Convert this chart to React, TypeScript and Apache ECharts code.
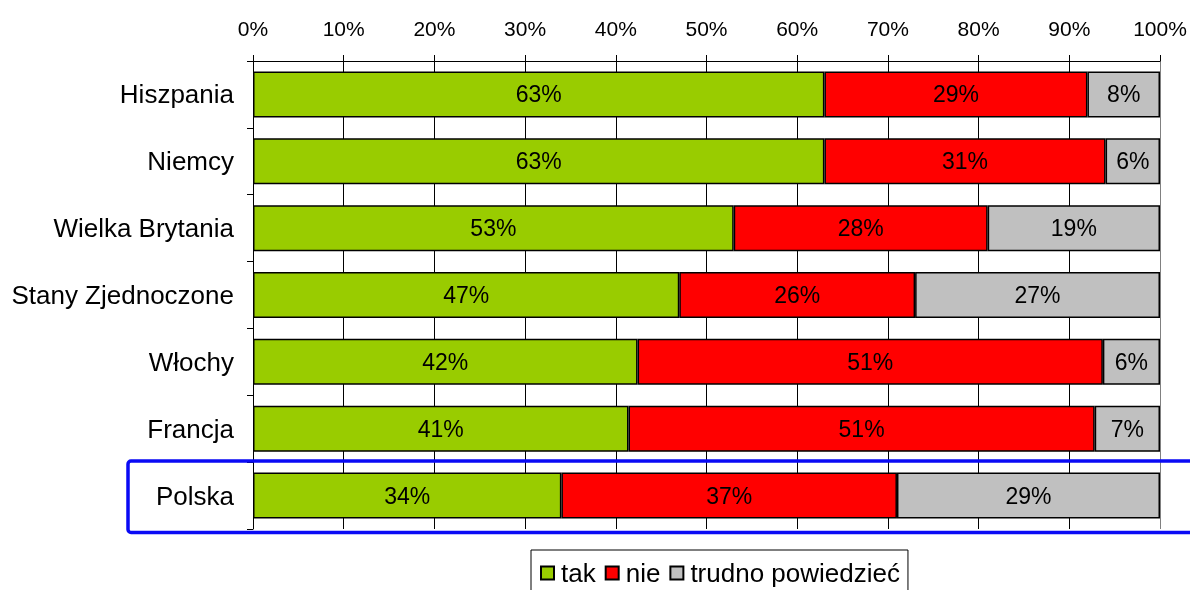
import React, { useEffect, useRef } from "react";
import * as echarts from "echarts";

const categories = ["Hiszpania", "Niemcy", "Wielka Brytania", "Stany Zjednoczone", "Włochy", "Francja", "Polska"];
const takValues = [63, 63, 53, 47, 42.4, 41.4, 34];
const nieValues = [29, 31, 28, 26, 51.3, 51.4, 37];
const trudnoValues = [8, 6, 19, 27, 6.3, 7.2, 29];
const seriesNames = ["tak", "nie", "trudno powiedzieć"];
const seriesColors = ["#99CC00", "#FF0000", "#C0C0C0"];
const xTicks = [0, 10, 20, 30, 40, 50, 60, 70, 80, 90, 100];

const FONT = "'Liberation Sans', Arial, sans-serif";

export default function App() {
  const ref = useRef<HTMLDivElement>(null);
  useEffect(() => {
    if (!ref.current) return;
    const chart = echarts.init(ref.current, null, { renderer: "svg" });
    const data = [takValues, nieValues, trudnoValues];
    const splitColors = xTicks.map((t) => (t === 100 ? "#808080" : "#000000"));
    chart.setOption({
      animation: false,
      textStyle: { fontFamily: FONT },
      grid: { left: 253, right: 30, top: 61, bottom: 61, containLabel: false },
      xAxis: {
        type: "value",
        position: "top",
        min: 0,
        max: 100,
        interval: 10,
        axisLine: { show: true, lineStyle: { color: "#000", width: 1 } },
        axisTick: { show: true, length: 6, lineStyle: { color: "#000" } },
        splitLine: { show: true, lineStyle: { color: splitColors, width: 1 } },
        axisLabel: {
          formatter: (v: number) => v + "%",
          color: "#000",
          fontSize: 21,
          fontFamily: FONT,
          margin: 22,
        },
      },
      yAxis: {
        type: "category",
        data: categories,
        inverse: true,
        axisLine: { show: true, lineStyle: { color: "#000", width: 1 } },
        axisTick: { show: true, length: 6, lineStyle: { color: "#000" } },
        axisLabel: { color: "#000", fontSize: 26, fontFamily: FONT, margin: 19 },
      },
      legend: {
        left: 531,
        top: 550,
        orient: "horizontal",
        padding: [10, 8, 10, 9],
        borderColor: "#000",
        borderWidth: 1,
        itemWidth: 13,
        itemHeight: 13,
        itemGap: 9,
        icon: "rect",
        textStyle: { color: "#000", fontSize: 26, fontFamily: FONT, padding: [0, 0, 0, 2] },
        data: seriesNames,
      },
      series: seriesNames.map((name, i) => ({
        name,
        type: "bar",
        stack: "total",
        barWidth: 46,
        data: data[i],
        itemStyle: { color: seriesColors[i], borderColor: "#000", borderWidth: 1.5 },
        label: {
          show: true,
          position: "inside",
          color: "#000",
          fontSize: 23,
          fontFamily: FONT,
          formatter: (p: any) => Math.round(p.value) + "%",
        },
      })),
      graphic: [
        {
          type: "rect",
          shape: { x: 128, y: 461, width: 1100, height: 71.5, r: 3 },
          style: { fill: "none", stroke: "#0A0AF5", lineWidth: 3.5 },
          z: 100,
        },
      ],
    });
    return () => chart.dispose();
  }, []);
  return <div ref={ref} style={{ position: "fixed", left: 0, top: 0, width: 1190, height: 590 }} />;
}
